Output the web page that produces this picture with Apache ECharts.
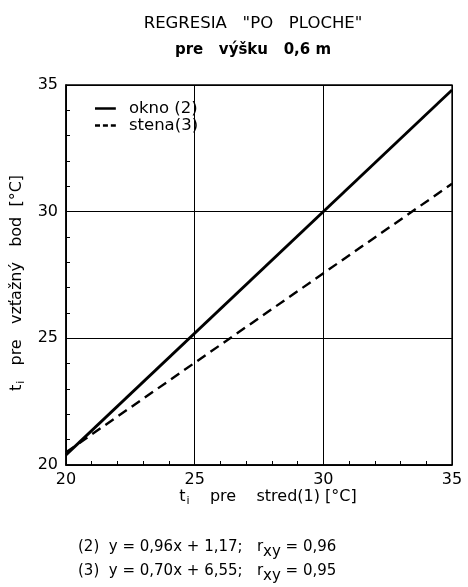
<!DOCTYPE html>
<html><head><meta charset="utf-8">
<script src="https://cdn.jsdelivr.net/npm/echarts@6/dist/echarts.min.js"></script>
<style>html,body{margin:0;padding:0;background:#fff}#c{width:468px;height:587px}</style>
</head><body><div id="c"></div>
<script>
const xTicks = [20, 25, 30, 35];
const yTicks = [20, 25, 30, 35];
const oknoX = [20, 35];
const oknoY = [20.4, 34.8];
const stenaX = [20, 35];
const stenaY = [20.5, 31.1];
const seriesNames = ['okno (2)', 'stena(3)'];

const F = '"DejaVu Sans", "Liberation Sans", sans-serif';
const C = '#000';
const chart = echarts.init(document.getElementById('c'));
const subRich = { t: { fontSize: 16, fontFamily: F, color: C }, s: { fontSize: 11, fontFamily: F, color: C, verticalAlign: 'bottom', padding: [9, 0, 0, 1] } };
chart.setOption({
  backgroundColor: '#fff',
  animation: false,
  textStyle: { fontFamily: F, color: C },
  title: {
    text: 'REGRESIA   "PO   PLOCHE"',
    subtext: 'pre   výšku   0,6 m',
    left: 248, textAlign: 'center', top: 10, itemGap: 11,
    textStyle: { fontSize: 16.5, fontWeight: 'normal', color: C, fontFamily: F },
    subtextStyle: { fontSize: 15, fontWeight: 'bold', color: C, fontFamily: F }
  },
  legend: {
    left: 90, top: 95, orient: 'vertical', itemGap: 0,
    itemWidth: 25, itemHeight: 2.5,
    textStyle: { fontSize: 16.5, lineHeight: 16, color: C, fontFamily: F, padding: [0, 0, 0, 6] },
    data: [
      { name: seriesNames[0], icon: 'path://M0,0h25v3h-25z' },
      { name: seriesNames[1], icon: 'path://M0,0h6v3h-6z M9.5,0h6v3h-6z M19,0h6v3h-6z' }
    ]
  },
  grid: { left: 66, right: 16, top: 85, bottom: 122, show: true, borderColor: C, borderWidth: 1.3, containLabel: false },
  xAxis: {
    type: 'value', min: xTicks[0], max: xTicks[xTicks.length - 1], interval: 5,
    axisLine: { show: true, lineStyle: { color: C, width: 1.6 } },
    axisTick: { show: true, inside: true, length: 5, lineStyle: { color: C } },
    minorTick: { show: true, splitNumber: 5, length: 4, lineStyle: { color: C } },
    splitLine: { show: true, lineStyle: { color: C, width: 1 } },
    axisLabel: { fontSize: 16, color: C, margin: 7, fontFamily: F },
    name: '{t|t}{s|i}    pre    stred(1) [°C]',
    nameLocation: 'middle', nameGap: 22, nameMoveOverlap: false,
    nameTextStyle: { fontSize: 16, color: C, fontFamily: F, rich: subRich, padding: [0, 0, 0, 18] }
  },
  yAxis: {
    type: 'value', min: yTicks[0], max: yTicks[yTicks.length - 1], interval: 5,
    axisLine: { show: true, lineStyle: { color: C, width: 1.6 } },
    axisTick: { show: true, inside: true, length: 5, lineStyle: { color: C } },
    minorTick: { show: true, splitNumber: 5, length: 4, lineStyle: { color: C } },
    splitLine: { show: true, lineStyle: { color: C, width: 1 } },
    axisLabel: { fontSize: 16, color: C, margin: 8, fontFamily: F },
    name: '{t|t}{s|i}   pre   vzťažný   bod  [°C]',
    nameLocation: 'middle', nameGap: 33,
    nameTextStyle: { fontSize: 16, color: C, fontFamily: F, rich: subRich, padding: [0, 16, 0, 0] }
  },
  series: [
    { name: seriesNames[0], type: 'line', symbol: 'none', data: oknoX.map((x, i) => [x, oknoY[i]]),
      lineStyle: { color: C, width: 2.8, type: 'solid' }, itemStyle: { color: C } },
    { name: seriesNames[1], type: 'line', symbol: 'none', data: stenaX.map((x, i) => [x, stenaY[i]]),
      lineStyle: { color: C, width: 2.4, type: [10, 6] }, itemStyle: { color: C } }
  ],
  graphic: [
    { type: 'text', left: 78, top: 540, style: { rich: { a: { fontSize: 15, fontFamily: F, fill: C }, s: { fontSize: 15, fontFamily: F, fill: C, padding: [9, 0, 0, 0] } },
      text: '{a|(2)  y = 0,96x + 1,17;   r}{s|xy}{a| = 0,96}' } },
    { type: 'text', left: 78, top: 564, style: { rich: { a: { fontSize: 15, fontFamily: F, fill: C }, s: { fontSize: 15, fontFamily: F, fill: C, padding: [9, 0, 0, 0] } },
      text: '{a|(3)  y = 0,70x + 6,55;   r}{s|xy}{a| = 0,95}' } }
  ]
});
</script></body></html>
